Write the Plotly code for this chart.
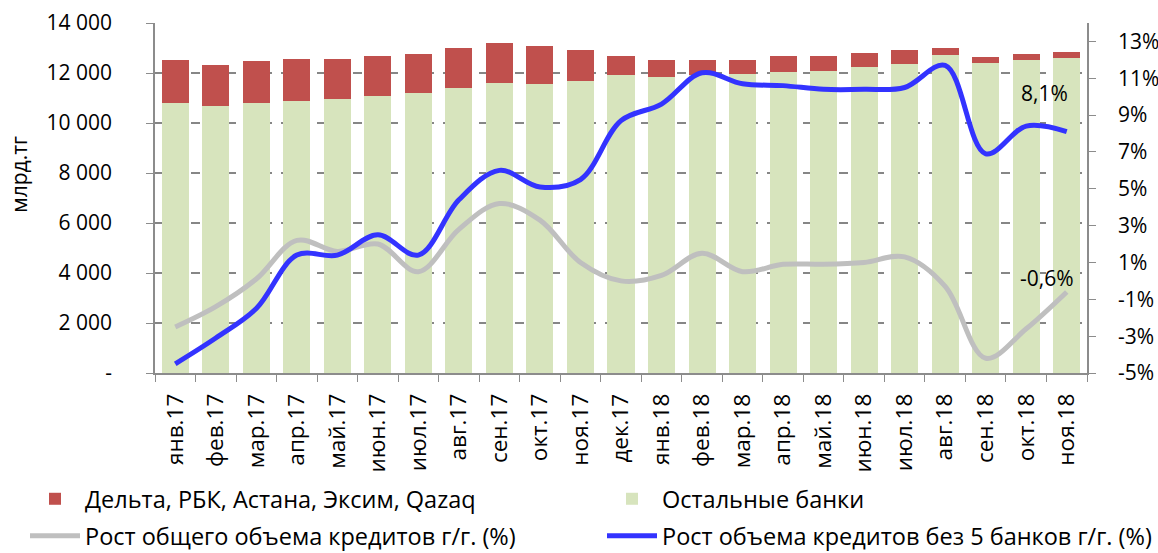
import plotly.graph_objects as go

months = ["янв.17", "фев.17", "мар.17", "апр.17", "май.17", "июн.17", "июл.17", "авг.17",
          "сен.17", "окт.17", "ноя.17", "дек.17", "янв.18", "фев.18", "мар.18", "апр.18",
          "май.18", "июн.18", "июл.18", "авг.18", "сен.18", "окт.18", "ноя.18"]

# млрд.тг
other_banks = [10810, 10670, 10810, 10900, 10980, 11080, 11200, 11420, 11600, 11560, 11680, 11920,
               11840, 11920, 11960, 12050, 12100, 12250, 12380, 12740, 12410, 12520, 12620]
five_banks = [1710, 1670, 1680, 1670, 1600, 1610, 1570, 1600, 1610, 1530, 1230, 770,
              680, 610, 580, 640, 600, 560, 550, 270, 240, 240, 230]

# %, г/г
growth_total = [-2.5, -1.4, 0.1, 2.2, 1.6, 2.0, 0.5, 2.8, 4.2, 3.3, 1.0, 0.0,
                0.3, 1.5, 0.5, 0.9, 0.9, 1.0, 1.3, -0.3, -4.2, -2.6, -0.6]
growth_ex5 = [-4.5, -3.1, -1.5, 1.4, 1.4, 2.5, 1.4, 4.4, 6.0, 5.1, 5.5, 8.7,
              9.6, 11.3, 10.7, 10.6, 10.4, 10.4, 10.5, 11.7, 6.9, 8.4, 8.1]

left_ticks = [0, 2000, 4000, 6000, 8000, 10000, 12000, 14000]
left_ticktext = ["-", "2 000", "4 000", "6 000", "8 000", "10 000", "12 000", "14 000"]
right_ticks = [-5, -3, -1, 1, 3, 5, 7, 9, 11, 13]
right_ticktext = ["-5%", "-3%", "-1%", "1%", "3%", "5%", "7%", "9%", "11%", "13%"]

FONT = "Open Sans"
FS = 21
FS_X = 22.5
FS_LEG = 23.5
AXIS_GREY = "#8c8c8c"

fig = go.Figure()
fig.add_trace(go.Bar(x=months, y=other_banks, name="Остальные банки",
                     marker=dict(color="#D7E4BD", line=dict(width=0)), legend="legend2"))
fig.add_trace(go.Bar(x=months, y=five_banks, name="Дельта, РБК, Астана, Эксим, Qazaq",
                     marker=dict(color="#C0504D", line=dict(width=0)), legend="legend"))
fig.add_trace(go.Scatter(x=months, y=growth_total, name="Рост общего объема кредитов г/г. (%)",
                         mode="lines", yaxis="y2",
                         line=dict(color="#BFBFBF", width=5, shape="spline", smoothing=1.0),
                         legend="legend3"))
fig.add_trace(go.Scatter(x=months, y=growth_ex5, name="Рост объема кредитов без 5 банков г/г. (%)",
                         mode="lines", yaxis="y2",
                         line=dict(color="#3333FF", width=5, shape="spline", smoothing=1.0),
                         legend="legend4"))

def fmt(v):
    return f"{v:.1f}".replace(".", ",") + "%"

annotations = [
    dict(x=months[-1], y=growth_ex5[-1], xref="x", yref="y2", text=fmt(growth_ex5[-1]),
         showarrow=False, xshift=-22, yshift=39, font=dict(family=FONT, size=FS, color="#000")),
    dict(x=months[-1], y=growth_total[-1], xref="x", yref="y2", text=fmt(growth_total[-1]),
         showarrow=False, xshift=-20, yshift=14, font=dict(family=FONT, size=FS, color="#000")),
    dict(x=-0.146, y=0.685, xref="paper", yref="paper", text="млрд.тг", textangle=-90,
         showarrow=False, xanchor="center", yanchor="top", font=dict(family=FONT, size=FS, color="#000")),
]

def leg(px, py):
    return dict(orientation="h", xref="container", yref="container", xanchor="left", yanchor="middle",
                x=px / 1158, y=1 - py / 553, itemwidth=50, traceorder="normal",
                bgcolor="rgba(0,0,0,0)", font=dict(family=FONT, size=FS_LEG, color="#000"))

fig.update_layout(
    width=1158, height=553,
    margin=dict(l=155, r=71, t=23, b=180, autoexpand=False),
    paper_bgcolor="white", plot_bgcolor="white",
    barmode="stack", bargap=0.333,
    font=dict(family=FONT, size=FS, color="#000"),
    showlegend=True,
    legend=leg(25, 499),
    legend2=leg(602, 499),
    legend3=leg(25, 536),
    legend4=leg(602, 536),
    xaxis=dict(type="category", tickangle=-90, showline=True, linecolor=AXIS_GREY, linewidth=1.5,
               ticks="outside", ticklen=7, tickcolor=AXIS_GREY, tickson="boundaries", showgrid=False,
               ticklabelstandoff=10, tickfont=dict(family=FONT, size=FS_X), mirror=False,
               automargin=False),
    yaxis=dict(range=[0, 14000], tickvals=left_ticks, ticktext=left_ticktext, showline=True,
               linecolor=AXIS_GREY, linewidth=1.5, ticks="outside", ticklen=7, tickcolor=AXIS_GREY,
               showgrid=True, gridcolor="#868686", gridwidth=1.5, griddash="dash", zeroline=False,
               ticklabelstandoff=30, tickfont=dict(family=FONT, size=FS), automargin=False),
    yaxis2=dict(range=[-5, 14], overlaying="y", side="right", tickvals=right_ticks, ticktext=right_ticktext,
                showline=True, linecolor=AXIS_GREY, linewidth=1.5, ticks="outside", ticklen=7,
                tickcolor=AXIS_GREY, showgrid=False, zeroline=False, ticklabelstandoff=18,
                tickfont=dict(family=FONT, size=FS), automargin=False),
    annotations=annotations,
)

fig.write_html("out.html", config={"displayModeBar": False},
               post_script="document.body.style.margin='0';")
